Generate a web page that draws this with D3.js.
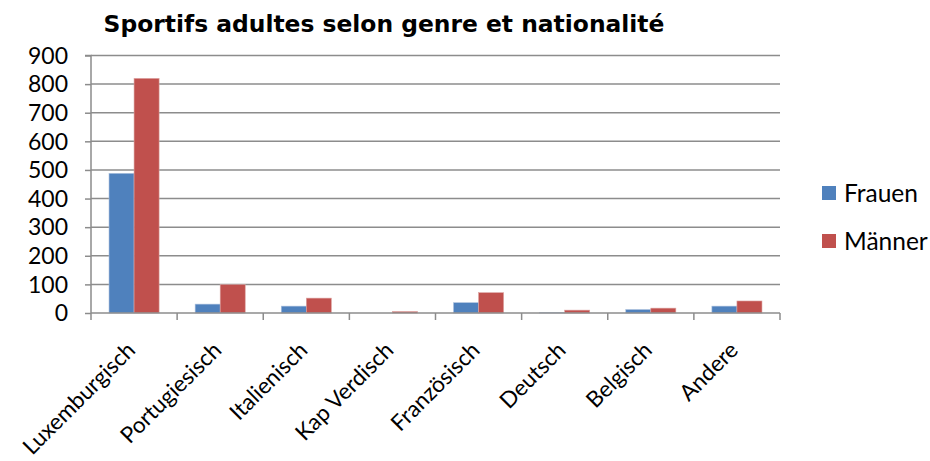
<!DOCTYPE html>
<html><head><meta charset="utf-8">
<script src="https://cdn.jsdelivr.net/npm/d3@7"></script>
<style>body{margin:0;background:#fff}svg{display:block}</style>
</head><body>
<svg id="c" width="930" height="461"></svg>
<script>
const title = "Sportifs adultes selon genre et nationalité";
const categories = ["Luxemburgisch","Portugiesisch","Italienisch","Kap Verdisch","Französisch","Deutsch","Belgisch","Andere"];
const seriesNames = ["Frauen","Männer"];
const frauen = [488, 31, 24, 0, 36, 1, 12, 24];
const maenner = [820, 99, 52, 5, 71, 10, 17, 42];
const yTicks = [0,100,200,300,400,500,600,700,800,900];
const colors = ["#4F81BD","#C0504D"];

const svg = d3.select("#c");
const L = 91, R = 780, T = 55.5, B = 313;
const x = d3.scaleBand().domain(categories).range([L, R]).paddingInner(0).paddingOuter(0);
const xs = d3.scaleBand().domain(seriesNames).range([0, x.bandwidth()]).paddingInner(0).paddingOuter(0.72);
const y = d3.scaleLinear().domain([0, 900]).range([B, T]);
const axisFont = "Lato, 'Open Sans', sans-serif";

// gridlines
svg.append("g").selectAll("line").data(yTicks.filter(d => d > 0)).join("line")
  .attr("x1", L).attr("x2", R).attr("y1", d => y(d)).attr("y2", d => y(d))
  .attr("stroke", "#8c8c8c").attr("stroke-width", 1.5);

// bars
const series = [frauen, maenner];
seriesNames.forEach((s, si) => {
  svg.append("g").selectAll("rect").data(categories).join("rect")
    .attr("x", c => x(c) + xs(s))
    .attr("width", xs.bandwidth())
    .attr("y", (c, i) => y(series[si][i]))
    .attr("height", (c, i) => B - y(series[si][i]))
    .attr("fill", colors[si])
    .attr("stroke", si === 0 ? "#a9bfdc" : "#dca3a1").attr("stroke-width", 0.6);
});

// y axis
const yAxis = d3.axisLeft(y).tickValues(yTicks).tickSize(6).tickPadding(17).tickFormat(d3.format("d"));
const gy = svg.append("g").attr("transform", `translate(${L},0)`).call(yAxis);
gy.select(".domain").attr("stroke", "#8c8c8c").attr("stroke-width", 1.5).attr("d", `M-6,${T}H0V${B}`);
gy.selectAll(".tick line").attr("stroke", "#8c8c8c").attr("stroke-width", 1.5);
gy.selectAll("text").attr("font-family", axisFont).attr("font-size", 23).attr("fill", "#000").attr("dy", "0.34em");

// x axis
const xb = d3.scaleLinear().domain([0, categories.length]).range([L, R]);
const gx = svg.append("g").attr("transform", `translate(0,${B})`);
gx.append("line").attr("x1", L).attr("x2", R).attr("stroke", "#8c8c8c").attr("stroke-width", 1.5);
gx.selectAll("line.t").data(d3.range(categories.length + 1)).join("line").attr("class", "t")
  .attr("x1", d => xb(d)).attr("x2", d => xb(d)).attr("y1", 0).attr("y2", 7)
  .attr("stroke", "#8c8c8c").attr("stroke-width", 1.5);
gx.selectAll("text").data(categories).join("text")
  .attr("transform", c => `translate(${x(c) + x.bandwidth()/2 - 3},${33}) rotate(-45)`)
  .attr("text-anchor", "end").attr("dy", "0.35em")
  .attr("font-family", axisFont).attr("font-size", 22.5).attr("fill", "#000")
  .text(c => c);

// title
svg.append("text").attr("x", 384).attr("y", 32).attr("text-anchor", "middle")
  .attr("font-family", "'DejaVu Sans', Verdana, sans-serif").attr("font-weight", "bold")
  .attr("font-size", 23.4).attr("fill", "#000").text(title);

// legend
const lg = svg.append("g");
seriesNames.forEach((s, i) => {
  const yy = 186 + i * 48;
  lg.append("rect").attr("x", 822).attr("y", yy).attr("width", 14).attr("height", 14).attr("fill", colors[i]);
  lg.append("text").attr("x", 844).attr("y", yy + 7).attr("dy", "0.36em")
    .attr("font-family", axisFont).attr("font-size", 24.5).attr("fill", "#000").text(s);
});
</script>
</body></html>
